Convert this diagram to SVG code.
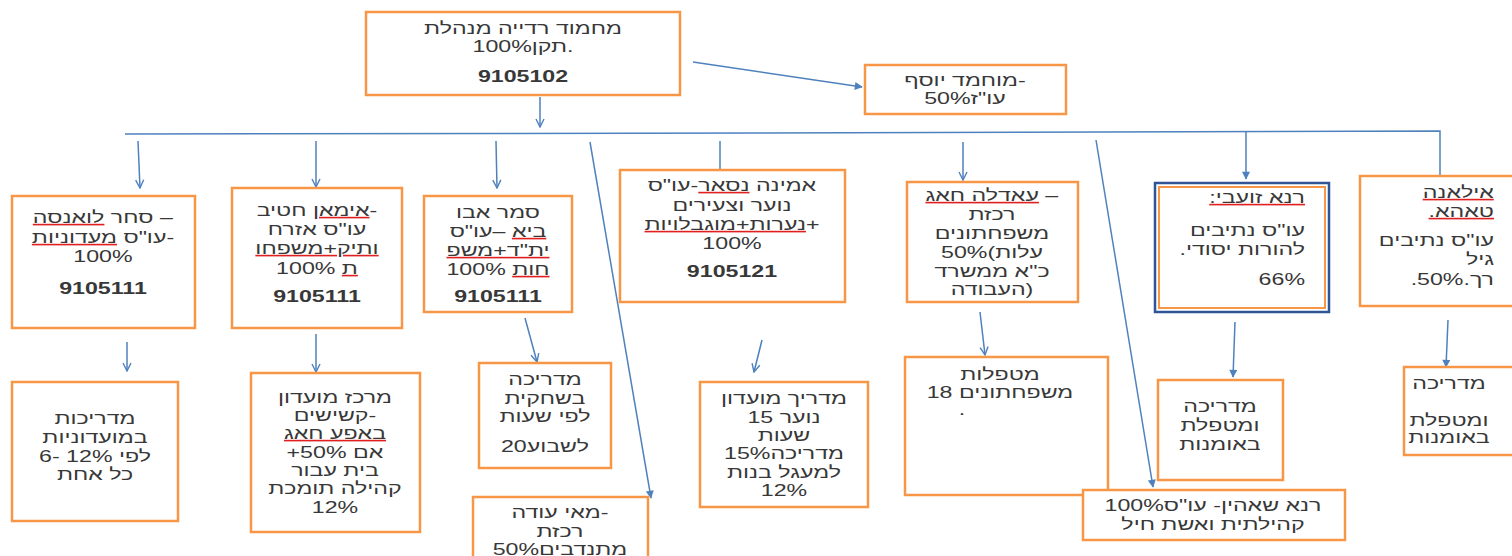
<svg xmlns="http://www.w3.org/2000/svg" width="1512" height="556" viewBox="0 0 1512 556">
<style>
text{font-family:"Liberation Sans","DejaVu Sans",Arial,sans-serif;font-size:16px;fill:#383838;direction:ltr;text-anchor:middle;transform-box:fill-box;transform-origin:center;transform:scaleX(1.45)}
.r{direction:rtl;text-anchor:start;transform-origin:right center}
.b{font-weight:bold}
.box{fill:#fff;stroke:#F79646;stroke-width:2.5}
.c{fill:none;stroke:#4F81BD;stroke-width:1.5}
.sq{fill:#e02020;text-decoration:underline wavy}
.t{fill:#383838}
</style>
<defs>
<marker id="ov" viewBox="0 0 10 10" refX="9" refY="5" markerWidth="10" markerHeight="10" markerUnits="userSpaceOnUse" orient="auto"><path d="M1,1 L9,5 L1,9" fill="none" stroke="#4F81BD" stroke-width="1.4"/></marker>
<marker id="fa" viewBox="0 0 10 10" refX="9" refY="5" markerWidth="10" markerHeight="8" markerUnits="userSpaceOnUse" orient="auto"><path d="M0,0 L10,5 L0,10 Z" fill="#4F81BD"/></marker>
</defs>
<g id="connectors">
<line class="c" x1="540" y1="97" x2="540" y2="127" marker-end="url(#ov)"/>
<line class="c" x1="693" y1="62" x2="862" y2="87" marker-end="url(#fa)"/>
<polyline class="c" points="125,134 760,133 1440,131 1440,175"/>
<line class="c" x1="138" y1="141" x2="140" y2="188" marker-end="url(#ov)"/>
<line class="c" x1="316" y1="141" x2="316" y2="187" marker-end="url(#ov)"/>
<line class="c" x1="496" y1="141" x2="497" y2="188" marker-end="url(#ov)"/>
<line class="c" x1="720" y1="141" x2="720" y2="170"/>
<line class="c" x1="590" y1="142" x2="651" y2="498" marker-end="url(#fa)"/>
<line class="c" x1="963" y1="142" x2="963" y2="180" marker-end="url(#ov)"/>
<line class="c" x1="1096" y1="140" x2="1153" y2="487" marker-end="url(#fa)"/>
<line class="c" x1="1246" y1="132" x2="1246" y2="179" marker-end="url(#fa)"/>
<line class="c" x1="127" y1="342" x2="127" y2="371" marker-end="url(#ov)"/>
<line class="c" x1="316" y1="334" x2="316" y2="372" marker-end="url(#ov)"/>
<line class="c" x1="525" y1="318" x2="537" y2="362" marker-end="url(#ov)"/>
<line class="c" x1="762" y1="340" x2="754" y2="372" marker-end="url(#ov)"/>
<line class="c" x1="980" y1="312" x2="985" y2="355" marker-end="url(#ov)"/>
<line class="c" x1="1235" y1="322" x2="1233" y2="377" marker-end="url(#fa)"/>
<line class="c" x1="1448" y1="320" x2="1446" y2="367" marker-end="url(#fa)"/>
</g>
<g id="n-top">
<rect class="box" x="366" y="12" width="314" height="83"/>
<text x="523" y="34">מחמוד רדייה מנהלת</text>
<text x="523" y="52">100%תקן.</text>
<text x="523" y="82" class="b">9105102</text>
</g>
<g id="n-yusuf">
<rect class="box" x="865" y="65" width="201" height="49"/>
<text x="965" y="86">מוחמד יוסף-</text>
<text x="965" y="104">עו"ז50%</text>
</g>
<g id="n-sahar">
<rect class="box" x="12" y="196" width="183" height="132"/>
<text x="103" y="223">סחר <tspan class="sq"><tspan class="t">לואנסה</tspan></tspan> –</text>
<text x="103" y="243">עו"ס <tspan class="sq"><tspan class="t">מעדוניות</tspan></tspan>-</text>
<text x="103" y="262">100%</text>
<text x="103" y="294" class="b">9105111</text>
</g>
<g id="n-iman">
<rect class="box" x="232" y="188" width="170" height="140"/>
<text x="317" y="216"><tspan class="sq"><tspan class="t">אימאן</tspan></tspan> חטיב-</text>
<text x="317" y="235">עו"ס אזרח</text>
<text x="317" y="254"><tspan class="sq"><tspan class="t">ותיק+משפחו</tspan></tspan></text>
<text x="317" y="274"><tspan class="sq"><tspan class="t">ת</tspan></tspan> 100%</text>
<text x="317" y="302" class="b">9105111</text>
</g>
<g id="n-samar">
<rect class="box" x="424" y="196" width="148" height="116"/>
<text x="498" y="218">סמר אבו</text>
<text x="498" y="237"><tspan class="sq"><tspan class="t">ביא</tspan></tspan> –עו"ס</text>
<text x="498" y="256"><tspan class="sq"><tspan class="t">ית"ד+משפ</tspan></tspan></text>
<text x="498" y="275"><tspan class="sq"><tspan class="t">חות</tspan></tspan> 100%</text>
<text x="498" y="302" class="b">9105111</text>
</g>
<g id="n-amina">
<rect class="box" x="620" y="170" width="225" height="132"/>
<text x="732" y="191">אמינה <tspan class="sq"><tspan class="t">נסאר</tspan></tspan>-עו"ס</text>
<text x="732" y="211">נוער וצעירים</text>
<text x="732" y="230"><tspan class="sq"><tspan class="t">נערות+מוגבלויות</tspan></tspan>+</text>
<text x="732" y="249">100%</text>
<text x="732" y="277" class="b">9105121</text>
</g>
<g id="n-adla">
<rect class="box" x="907" y="182" width="171" height="120"/>
<text x="992" y="201"><tspan class="sq"><tspan class="t">עאדלה חאג</tspan></tspan> –</text>
<text x="992" y="220">רכזת</text>
<text x="992" y="239">משפחתונים</text>
<text x="992" y="258">50%(עלות</text>
<text x="992" y="277">כ"א ממשרד</text>
<text x="992" y="295">העבודה)</text>
</g>
<g id="n-rana-z">
<rect x="1155" y="183" width="174" height="129" fill="#fff" stroke="#2F5597" stroke-width="2.5"/>
<rect x="1159" y="187" width="166" height="121" fill="none" stroke="#F79646" stroke-width="2"/>
<text x="1305" y="203" class="r"><tspan class="sq"><tspan class="t">רנא זועבי:</tspan></tspan></text>
<text x="1305" y="236" class="r">עו"ס נתיבים</text>
<text x="1305" y="255" class="r">להורות יסודי.</text>
<text x="1305" y="285" class="r">66%</text>
</g>
<g id="n-ilana">
<rect class="box" x="1360" y="176" width="160" height="130"/>
<text x="1494" y="198" class="r"><tspan class="sq"><tspan class="t">אילאנה</tspan></tspan></text>
<text x="1494" y="217" class="r"><tspan class="sq"><tspan class="t">טאהא.</tspan></tspan></text>
<text x="1494" y="246" class="r">עו"ס נתיבים</text>
<text x="1494" y="265" class="r">גיל</text>
<text x="1494" y="285" class="r">רך.50%.</text>
</g>
<g id="n-madrichot">
<rect class="box" x="12" y="382" width="166" height="139"/>
<text x="95" y="424">מדריכות</text>
<text x="95" y="443">במועדוניות</text>
<text x="95" y="462">6- לפי 12%</text>
<text x="95" y="480">כל אחת</text>
</g>
<g id="n-merkaz">
<rect class="box" x="251" y="373" width="169" height="159"/>
<text x="335" y="403">מרכז מועדון</text>
<text x="335" y="421">קשישים-</text>
<text x="335" y="439"><tspan class="sq"><tspan class="t">באפע חאג</tspan></tspan></text>
<text x="335" y="458">+50% אם</text>
<text x="335" y="476">בית עבור</text>
<text x="335" y="494">קהילה תומכת</text>
<text x="335" y="513">12%</text>
</g>
<g id="n-sahkit">
<rect class="box" x="479" y="363" width="132" height="105"/>
<text x="545" y="385">מדריכה</text>
<text x="545" y="404">בשחקית</text>
<text x="545" y="422">לפי שעות</text>
<text x="545" y="452">20לשבוע</text>
</g>
<g id="n-madrich">
<rect class="box" x="700" y="382" width="168" height="125"/>
<text x="784" y="404">מדריך מועדון</text>
<text x="784" y="423">נוער 15</text>
<text x="784" y="441">שעות</text>
<text x="784" y="459">15%מדריכה</text>
<text x="784" y="478">למעגל בנות</text>
<text x="784" y="496">12%</text>
</g>
<g id="n-mai">
<rect class="box" x="473" y="497" width="175" height="70"/>
<text x="560" y="518">מאי עודה-</text>
<text x="560" y="537">רכזת</text>
<text x="560" y="555">50%מתנדבים</text>
</g>
<g id="n-metaplot">
<rect class="box" x="905" y="357" width="203" height="138"/>
<text x="1000" y="380">מטפלות</text>
<text x="1000" y="398">משפחתונים 18</text>
<text x="962" y="415">.</text>
</g>
<g id="n-rana-s">
<rect class="box" x="1083" y="490" width="262" height="50"/>
<text x="1213" y="511">100%רנא שאהין- עו"ס</text>
<text x="1213" y="530">קהילתית ואשת חיל</text>
</g>
<g id="n-omanut1">
<rect class="box" x="1158" y="380" width="125" height="100"/>
<text x="1220" y="412">מדריכה</text>
<text x="1220" y="431">ומטפלת</text>
<text x="1220" y="450">באומנות</text>
</g>
<g id="n-omanut2">
<rect class="box" x="1404" y="367" width="120" height="88"/>
<text x="1449" y="389">מדריכה</text>
<text x="1449" y="426">ומטפלת</text>
<text x="1449" y="443">באומנות</text>
</g>
</svg>
